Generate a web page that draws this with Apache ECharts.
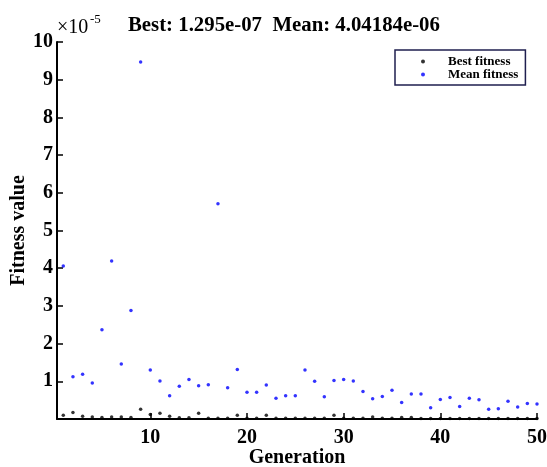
<!DOCTYPE html>
<html>
<head>
<meta charset="utf-8">
<script src="https://cdn.jsdelivr.net/npm/echarts@6/dist/echarts.min.js"></script>
<style>html,body{margin:0;padding:0;background:#fff}#c{width:547px;height:467px}</style>
</head>
<body>
<div id="c"></div>
<script>
// values in units of 1e-5
var generations = [1,2,3,4,5,6,7,8,9,10,11,12,13,14,15,16,17,18,19,20,21,22,23,24,25,26,27,28,29,30,31,32,33,34,35,36,37,38,39,40,41,42,43,44,45,46,47,48,49,50];
var meanFitness = [4.06,1.12,1.19,0.955,2.37,4.19,1.46,2.88,9.47,1.30,
                   1.01,0.62,0.87,1.05,0.885,0.91,5.71,0.83,1.31,0.71,
                   0.71,0.90,0.55,0.62,0.62,1.30,1.00,0.59,1.02,1.05,
                   1.01,0.73,0.54,0.60,0.76,0.44,0.66,0.66,0.30,0.52,
                   0.57,0.33,0.55,0.51,0.26,0.27,0.47,0.32,0.41,0.40];
var bestFitness = [0.10,0.17,0.07,0.05,0.04,0.05,0.05,0.04,0.26,0.12,
                   0.15,0.07,0.03,0.03,0.15,0.02,0.02,0.02,0.10,0.02,
                   0.02,0.10,0.02,0.02,0.02,0.02,0.02,0.02,0.10,0.02,
                   0.02,0.02,0.05,0.02,0.02,0.04,0.04,0.015,0.015,0.015,
                   0.015,0.015,0.015,0.015,0.015,0.015,0.015,0.015,0.015,0.013];
var xTickValues = [10,20,30,40,50];
var titleText = 'Best: 1.295e-07  Mean: 4.04184e-06';

var FONT = '"Liberation Serif","Times New Roman",serif';
function pairs(ys){ return generations.map(function(g,i){ return [g, ys[i]]; }); }

var chart = echarts.init(document.getElementById('c'), null, {renderer:'canvas'});
chart.setOption({
  animation:false,
  backgroundColor:'#fff',
  title:{
    text:titleText, left:123, top:10,
    textStyle:{fontFamily:FONT, fontSize:20.8, fontWeight:'bold', color:'#000'}
  },
  grid:{left:57, right:10, top:42, bottom:48, containLabel:false, outerBoundsMode:'none'},
  legend:{
    orient:'vertical', left:395, top:50,
    padding:[5,7,4,26], itemGap:0, itemWidth:4, itemHeight:4,
    borderColor:'#1f1f4f', borderWidth:1.5, backgroundColor:'#fff',
    textStyle:{fontFamily:FONT, fontSize:13, fontWeight:'bold', color:'#000', padding:[0,0,0,18]},
    data:[{name:'Best fitness', icon:'circle'},{name:'Mean fitness', icon:'circle'}]
  },
  xAxis:{
    type:'value', min:0.35, max:50,
    name:'Generation', nameLocation:'middle', nameGap:29, nameMoveOverlap:false,
    nameTextStyle:{fontFamily:FONT, fontSize:20, fontWeight:'bold', color:'#000'},
    axisLine:{show:true, onZero:false, lineStyle:{color:'#000', width:2}},
    axisTick:{show:true, inside:true, length:6, customValues:xTickValues, lineStyle:{color:'#000', width:1.5}},
    axisLabel:{customValues:xTickValues, margin:9, fontFamily:FONT, fontSize:20, fontWeight:'bold', color:'#000'},
    splitLine:{show:false}
  },
  yAxis:{
    type:'value', min:0, max:10, interval:1,
    name:'Fitness value', nameLocation:'middle', nameGap:28, nameRotate:90, nameMoveOverlap:false,
    nameTextStyle:{fontFamily:FONT, fontSize:20, fontWeight:'bold', color:'#000'},
    axisLine:{show:true, lineStyle:{color:'#000', width:2}},
    axisTick:{show:true, inside:true, length:6, lineStyle:{color:'#000', width:1.5}},
    axisLabel:{showMinLabel:false, margin:4, fontFamily:FONT, fontSize:20, fontWeight:'bold', color:'#000'},
    splitLine:{show:false}
  },
  graphic:[
    {type:'text', left:57, top:18, style:{text:'×10', fontFamily:FONT, fontSize:20, fill:'#000'}},
    {type:'text', left:90, top:13, style:{text:'-5', fontFamily:FONT, fontSize:13, fill:'#000'}}
  ],
  series:[
    {name:'Best fitness', type:'scatter', symbol:'circle', symbolSize:3.5, itemStyle:{color:'#000'}, data:pairs(bestFitness), z:3},
    {name:'Mean fitness', type:'scatter', symbol:'circle', symbolSize:3.5, itemStyle:{color:'#0000ff'}, data:pairs(meanFitness), z:3}
  ]
});
</script>
</body>
</html>
